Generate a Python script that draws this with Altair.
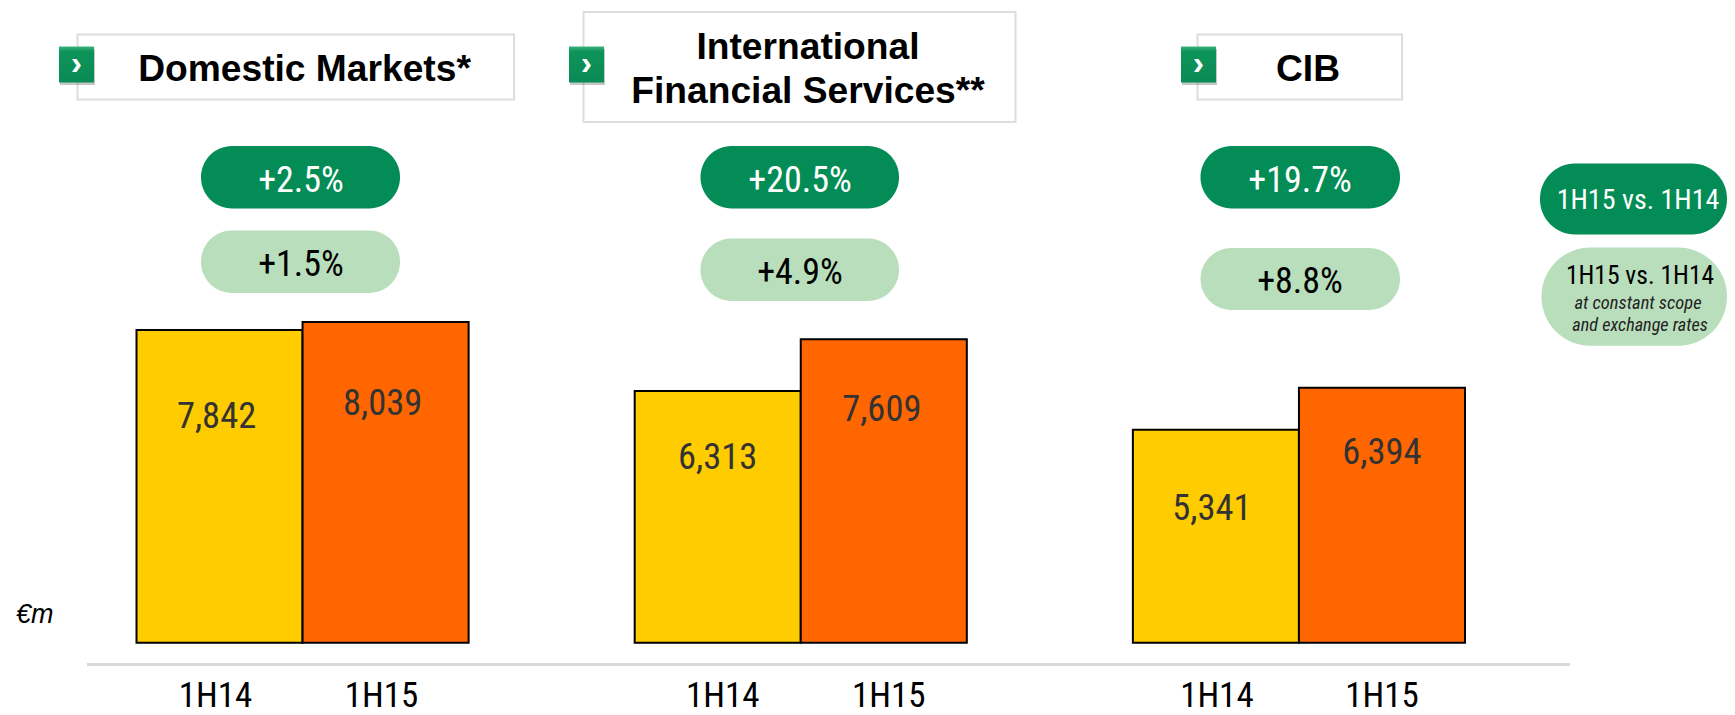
import altair as alt
import pandas as pd

# ---- data ----
groups = ["Domestic Markets", "International Financial Services", "CIB"]
periods = ["1H14", "1H15", "1H14", "1H15", "1H14", "1H15"]
slots = ["a1", "a2", "gap1", "b1", "b2", "gap2", "c1", "c2"]
bar_slots = ["a1", "a2", "b1", "b2", "c1", "c2"]
revenues = [7842, 8039, 6313, 7609, 5341, 6394]
revenue_labels = ["7,842", "8,039", "6,313", "7,609", "5,341", "6,394"]
growth = ["+2.5%", "+20.5%", "+19.7%"]
growth_constant = ["+1.5%", "+4.9%", "+8.8%"]
legend_main = "1H15 vs. 1H14"
legend_sub = ["at constant scope", "and exchange rates"]
unit = "€m"

DARK = "#038C55"
LIGHT = "#B9DEBB"
NARROW = "Roboto Condensed"
SANS = "Liberation Sans"
M = 8  # page margin


def rect(x0, x1, y0, y1, **kw):
    return alt.Chart().mark_rect(**kw).encode(
        x=alt.value(x0 - M), x2=alt.value(x1 - M),
        y=alt.value(y0 - M), y2=alt.value(y1 - M))


def label(s, x, y, size, color="black", font=NARROW, align="center", **kw):
    return alt.Chart().mark_text(
        text=s, fontSize=size, color=color, font=font, align=align,
        baseline="alphabetic", **kw).encode(x=alt.value(x - M), y=alt.value(y - M))


def header(x0, x1, y0, y1, ix0, ix1):
    shade = rect(ix0 + 1, ix1 + 1, 49, 85, fill="#000000", opacity=0.22)
    icon = rect(ix0, ix1, 46.5, 82.5, fill=alt.Gradient(
        gradient="linear", x1=0, x2=0, y1=0, y2=1,
        stops=[alt.GradientStop(color="#3DB27E", offset=0),
               alt.GradientStop(color="#0D9459", offset=0.14),
               alt.GradientStop(color="#0A8A55", offset=1)]))
    chevron = label("›", (ix0 + ix1) / 2, 74, 34, color="white", font=SANS, fontWeight="bold")
    box = rect(x0, x1, y0, y1, fill="white", stroke="#DDDDDD", strokeWidth=2)
    return [box, shade, icon, chevron]


layers = []
layers += header(77.5, 514, 34.5, 99.5, 59, 94)
layers += header(583.5, 1015.5, 12, 122, 569, 604)
layers += header(1197.5, 1402, 34.5, 99.5, 1181, 1216)
layers += [
    label("Domestic Markets*", 304.5, 80.7, 37.2, font=SANS, fontWeight="bold"),
    label("International", 808, 58.7, 37.2, font=SANS, fontWeight="bold"),
    label("Financial Services**", 808, 103.2, 37.2, font=SANS, fontWeight="bold"),
    label("CIB", 1308, 80.7, 37.2, font=SANS, fontWeight="bold"),
]

# pills
pill_x = [(201, 400), (700.5, 899), (1200.5, 1400)]
pill_light_y = [(230.5, 293), (238.5, 301), (248, 310)]
text_x = [301, 800, 1300]
text_light_y = [275.7, 284, 292.5]
for i in range(3):
    layers.append(rect(pill_x[i][0], pill_x[i][1], 146, 208.5, fill=DARK, cornerRadius=31))
    layers.append(rect(pill_x[i][0], pill_x[i][1], pill_light_y[i][0], pill_light_y[i][1],
                       fill=LIGHT, cornerRadius=31))
    layers.append(label(growth[i], text_x[i], 191.7, 36, color="white"))
    layers.append(label(growth_constant[i], text_x[i], text_light_y[i], 36, color="black"))

# legend pills
layers += [
    rect(1540, 1727, 163.5, 234.5, fill=DARK, cornerRadius=35),
    rect(1541.5, 1727, 247.5, 345.7, fill=LIGHT, cornerRadius=49),
    label(legend_main, 1638, 209, 28, color="white"),
    label(legend_main, 1640, 283.5, 25.5, color="black"),
    label(legend_sub[0], 1638, 309, 18.5, color="#222222", fontStyle="italic"),
    label(legend_sub[1], 1640, 331, 18.2, color="#222222", fontStyle="italic"),
]

# baseline and unit
layers.append(rect(87, 1570, 663, 666, fill="#DADADA"))
layers.append(label(unit, 16, 623, 27, font=SANS, align="left", fontStyle="italic"))

# bars through the scales
x_scale = alt.Scale(domain=slots, range=[128.5, 1457], paddingInner=0, paddingOuter=0)
y_scale = alt.Scale(domain=[0, 15000], range=[634.7, 36.5], nice=False, zero=True)
df = pd.DataFrame({"slot": bar_slots, "period": periods, "value": revenues, "text": revenue_labels})

bars = alt.Chart(df).mark_bar(stroke="black", strokeWidth=2).encode(
    x=alt.X("slot:N", scale=x_scale, axis=None),
    y=alt.Y("value:Q", scale=y_scale, axis=None),
    fill=alt.Fill("period:N", scale=alt.Scale(domain=["1H14", "1H15"], range=["#FFCC00", "#FF6600"]),
                  legend=None),
)
layers.append(bars)

label_dy = [87, 82, 67, 71, 79, 65]
label_dx = [-3, -3, 0, -2, -4, 0]
tick_dx = [-4, -4, 5, 5, 1, 0]
for i in range(6):
    row = df.iloc[[i]]
    layers.append(alt.Chart(row).mark_text(
        fontSize=36.5, font=NARROW, color="#333333", baseline="middle",
        dx=label_dx[i], dy=label_dy[i]).encode(
        x=alt.X("slot:N", scale=x_scale, axis=None),
        y=alt.Y("value:Q", scale=y_scale, axis=None),
        text="text:N"))
    layers.append(alt.Chart(row).mark_text(
        fontSize=35, font=NARROW, color="black", baseline="alphabetic", dx=tick_dx[i]).encode(
        x=alt.X("slot:N", scale=x_scale, axis=None),
        y=alt.value(707 - M),
        text="period:N"))

chart = alt.layer(*layers).properties(
    width=1719, height=707, padding=0,
    autosize=alt.AutoSizeParams(type="none", contains="padding"),
).configure_view(stroke=None)

chart.save("out.html", embed_options={"renderer": "svg", "actions": False})
